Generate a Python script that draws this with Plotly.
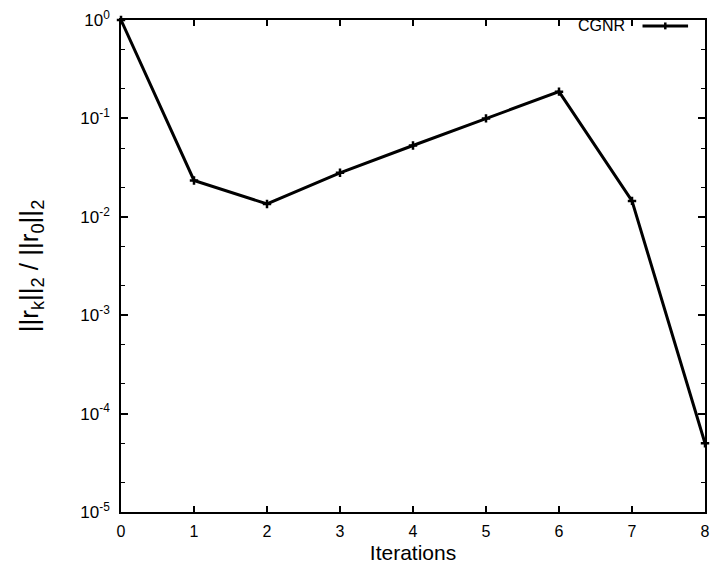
import plotly.graph_objects as go

# CGNR residual history
iterations = [0, 1, 2, 3, 4, 5, 6, 7, 8]
rel_residual = [1.0, 0.0234, 0.0135, 0.028, 0.053, 0.1, 0.187, 0.0145, 5.0e-5]

x_ticks = [0, 1, 2, 3, 4, 5, 6, 7, 8]
y_ticks = [1e0, 1e-1, 1e-2, 1e-3, 1e-4, 1e-5]
y_tick_text = ["10<sup>0</sup>", "10<sup>-1</sup>", "10<sup>-2</sup>",
               "10<sup>-3</sup>", "10<sup>-4</sup>", "10<sup>-5</sup>"]
y_minor = [m * 10.0 ** e for e in range(-5, 0) for m in (2, 5)]

series_name = "CGNR"
font_family = "Liberation Sans, Arial, sans-serif"

fig = go.Figure()
fig.add_trace(go.Scatter(
    x=iterations, y=rel_residual, mode="lines+markers", name=series_name,
    line=dict(color="black", width=3),
    marker=dict(symbol="cross-thin", size=6, color="black",
                line=dict(color="black", width=2.5)),
    showlegend=False,
    cliponaxis=False,
))

fig.update_layout(
    width=718, height=576,
    margin=dict(l=121, r=8, t=16, b=64),
    paper_bgcolor="white", plot_bgcolor="white",
    font=dict(family=font_family, color="black", size=16),
    xaxis=dict(
        range=[0, 8], tickvals=x_ticks, ticks="inside", ticklen=6,
        tickwidth=1.5, tickcolor="black", showline=True, linecolor="black",
        linewidth=1.5, mirror="ticks", showgrid=False, zeroline=False,
        title=dict(text="Iterations", font=dict(size=21), standoff=6),
        tickfont=dict(size=16), ticklabelstandoff=4,
    ),
    yaxis=dict(
        type="log", range=[-5, 0], tickvals=y_ticks, ticktext=y_tick_text,
        ticks="inside", ticklen=7, tickwidth=1.5, tickcolor="black",
        showline=True, linecolor="black", linewidth=1.5, mirror="ticks",
        showgrid=False, zeroline=False,
        minor=dict(tickvals=y_minor, ticks="inside", ticklen=4,
                   tickcolor="black", tickwidth=1.2, showgrid=False),
        title=dict(text="||r<sub>k</sub>||<sub>2</sub> / ||r<sub>0</sub>||<sub>2</sub>",
                   font=dict(size=26), standoff=34),
        tickfont=dict(size=17), ticklabelstandoff=6,
    ),
)

# Key in the upper-right corner: label followed by a line sample
key_y = 0.988
fig.add_annotation(
    x=0.866, y=key_y, xref="paper", yref="paper", text=series_name,
    showarrow=False, xanchor="right", yanchor="middle",
    font=dict(size=16, family=font_family, color="black"),
)
key_x0, key_x1 = 0.893, 0.971
fig.add_shape(type="line", xref="paper", yref="paper",
              x0=key_x0, x1=key_x1, y0=key_y, y1=key_y,
              line=dict(color="black", width=3))
mid = (key_x0 + key_x1) / 2
fig.add_shape(type="line", xref="paper", yref="paper",
              x0=mid, x1=mid, y0=key_y - 0.007, y1=key_y + 0.007,
              line=dict(color="black", width=2.5))

fig.write_html("out.html")
